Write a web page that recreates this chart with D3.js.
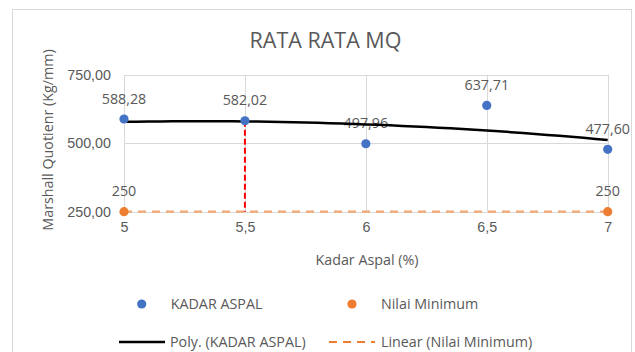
<!DOCTYPE html>
<html>
<head>
<meta charset="utf-8">
<script src="https://cdn.jsdelivr.net/npm/d3@7"></script>
<style>
  html, body { margin: 0; padding: 0; background: #fff; }
  svg { display: block; }
  text { font-family: "Open Sans", Lato, sans-serif; fill: #595959; }
</style>
</head>
<body>
<div id="chart"></div>
<script>
// Kadar aspal (%) and average Marshall Quotient (kg/mm)
const kadarAspal = [5, 5.5, 6, 6.5, 7];
const mqValues = [588.28, 582.02, 497.96, 637.71, 477.60];
const mqLabels = ["588,28", "582,02", "497,96", "637,71", "477,60"];

// Minimum requirement series
const minX = [5, 7];
const minValues = [250, 250];
const minLabels = ["250", "250"];

// Optimum marker at 5,5 %
const optimumX = 5.5;
const optimumRange = [250, 582.02];

// Axis ticks
const xTicks = [5, 5.5, 6, 6.5, 7];
const xTickLabels = ["5", "5,5", "6", "6,5", "7"];
const yTicks = [250, 500, 750];
const yTickLabels = ["250,00", "500,00", "750,00"];

const W = 635, H = 352;
const blue = "#4472C4", orange = "#ED7D31";
const FS = 14.3;

const svg = d3.select("#chart").append("svg")
  .attr("width", W).attr("height", H);

// Chart frame
svg.append("rect")
  .attr("x", 12.5).attr("y", 9.5)
  .attr("width", 619).attr("height", 360)
  .attr("fill", "#fff").attr("stroke", "#d9d9d9");

const x = d3.scaleLinear().domain([5, 7]).range([124, 607.7]);
const y = d3.scaleLinear().domain([250, 750]).range([211.7, 74.7]);

// Gridlines
const grid = svg.append("g").attr("stroke", "#d9d9d9").attr("stroke-width", 1);
grid.selectAll("line.h").data(yTicks).join("line")
  .attr("x1", x(5)).attr("x2", x(7))
  .attr("y1", d => Math.round(y(d)) + 0.5).attr("y2", d => Math.round(y(d)) + 0.5);
grid.selectAll("line.v").data(xTicks).join("line")
  .attr("x1", d => Math.round(x(d)) + 0.5).attr("x2", d => Math.round(x(d)) + 0.5)
  .attr("y1", y(750)).attr("y2", y(250));

// Axes (labels only, no domain lines)
const yAxis = d3.axisLeft(y).tickValues(yTicks).tickSize(0).tickPadding(0)
  .tickFormat((d, i) => yTickLabels[i]);
svg.append("g").attr("transform", "translate(111,0)").call(yAxis)
  .call(g => g.select(".domain").remove())
  .selectAll("text").attr("font-size", FS).style("font-family", "inherit").attr("fill", "#595959");

const xAxis = d3.axisBottom(x).tickValues(xTicks).tickSize(0).tickPadding(0)
  .tickFormat((d, i) => xTickLabels[i]);
svg.append("g").attr("transform", "translate(0,222)").call(xAxis)
  .call(g => g.select(".domain").remove())
  .selectAll("text").attr("font-size", FS).style("font-family", "inherit").attr("fill", "#595959");

// Titles
svg.append("text").attr("x", 325.5).attr("y", 47.5)
  .attr("text-anchor", "middle").attr("font-size", 21.5).text("RATA RATA MQ");
svg.append("text").attr("x", 367).attr("y", 264.5)
  .attr("text-anchor", "middle").attr("font-size", FS).text("Kadar Aspal (%)");
svg.append("text")
  .attr("transform", "translate(53,140) rotate(-90)")
  .attr("text-anchor", "middle").attr("font-size", FS).text("Marshall Quotienr (Kg/mm)");

// Data labels
const labels = svg.append("g").attr("font-size", FS).attr("text-anchor", "middle");
labels.selectAll("text.mq").data(kadarAspal).join("text")
  .attr("x", d => x(d)).attr("y", (d, i) => y(mqValues[i]) - 15.5)
  .text((d, i) => mqLabels[i]);
labels.selectAll("text.min").data(minX).join("text")
  .attr("class", "min")
  .attr("x", d => x(d)).attr("y", (d, i) => y(minValues[i]) - 15.5)
  .text((d, i) => minLabels[i]);

// Second-order polynomial trendline fitted to the MQ series
function polyFit2(xs, ys) {
  let s = [0, 0, 0, 0, 0], t = [0, 0, 0];
  xs.forEach((xv, i) => {
    for (let k = 0; k <= 4; k++) s[k] += Math.pow(xv, k);
    for (let k = 0; k <= 2; k++) t[k] += Math.pow(xv, k) * ys[i];
  });
  const M = [[s[0], s[1], s[2], t[0]], [s[1], s[2], s[3], t[1]], [s[2], s[3], s[4], t[2]]];
  for (let c = 0; c < 3; c++) {
    for (let r = c + 1; r < 3; r++) {
      const f = M[r][c] / M[c][c];
      for (let k = c; k < 4; k++) M[r][k] -= f * M[c][k];
    }
  }
  const coef = [0, 0, 0];
  for (let r = 2; r >= 0; r--) {
    let v = M[r][3];
    for (let k = r + 1; k < 3; k++) v -= M[r][k] * coef[k];
    coef[r] = v / M[r][r];
  }
  return xv => coef[0] + coef[1] * xv + coef[2] * xv * xv;
}
const poly = polyFit2(kadarAspal, mqValues);
const polyPts = d3.range(0, 41).map(i => 5 + i * 0.05);
svg.append("path")
  .datum(polyPts)
  .attr("fill", "none").attr("stroke", "#000").attr("stroke-width", 2.5)
  .attr("d", d3.line().x(d => x(d)).y(d => y(poly(d))));

// Linear trendline of the minimum series
svg.append("line")
  .attr("x1", x(minX[0])).attr("x2", x(minX[1]))
  .attr("y1", y(minValues[0])).attr("y2", y(minValues[1]))
  .attr("stroke", "#F4A772").attr("stroke-width", 2.2)
  .attr("stroke-dasharray", "8,6");

// Optimum marker line
svg.append("line")
  .attr("x1", x(optimumX)).attr("x2", x(optimumX))
  .attr("y1", y(optimumRange[1])).attr("y2", y(optimumRange[0]))
  .attr("stroke", "#FF0000").attr("stroke-width", 2)
  .attr("stroke-dasharray", "6,3");

// Points
svg.append("g").selectAll("circle").data(kadarAspal).join("circle")
  .attr("cx", d => x(d)).attr("cy", (d, i) => y(mqValues[i]))
  .attr("r", 4.6).attr("fill", blue);
svg.append("g").selectAll("circle").data(minX).join("circle")
  .attr("cx", d => x(d)).attr("cy", (d, i) => y(minValues[i]))
  .attr("r", 4.6).attr("fill", orange);

// Legend
const lg = svg.append("g").attr("font-size", FS);
lg.append("circle").attr("cx", 141.7).attr("cy", 304).attr("r", 4.6).attr("fill", blue);
lg.append("text").attr("x", 170.7).attr("y", 309).text("KADAR ASPAL");
lg.append("circle").attr("cx", 352).attr("cy", 304).attr("r", 4.6).attr("fill", orange);
lg.append("text").attr("x", 381).attr("y", 309).text("Nilai Minimum");
lg.append("line").attr("x1", 119).attr("x2", 165).attr("y1", 342).attr("y2", 342)
  .attr("stroke", "#000").attr("stroke-width", 2.5);
lg.append("text").attr("x", 170).attr("y", 347).text("Poly. (KADAR ASPAL)");
lg.append("line").attr("x1", 329).attr("x2", 375).attr("y1", 342).attr("y2", 342)
  .attr("stroke", orange).attr("stroke-width", 2.2).attr("stroke-dasharray", "8,6");
lg.append("text").attr("x", 381).attr("y", 347).text("Linear (Nilai Minimum)");
</script>
</body>
</html>
